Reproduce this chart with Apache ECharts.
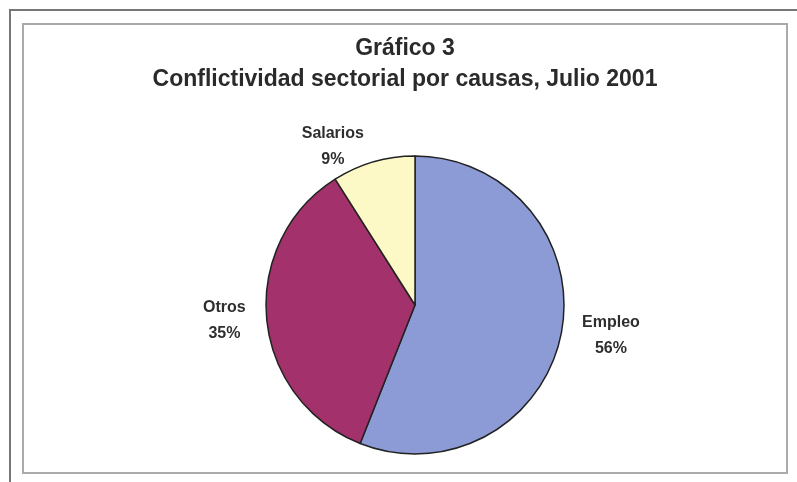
<!DOCTYPE html>
<html>
<head>
<meta charset="utf-8">
<script src="https://cdn.jsdelivr.net/npm/echarts@6/dist/echarts.min.js"></script>
<style>
html,body{margin:0;padding:0;background:#fff;}
#chart{width:797px;height:482px;}
</style>
</head>
<body>
<div id="chart"></div>
<script>
const titleLines = ['Gráfico 3', 'Conflictividad sectorial por causas, Julio 2001'];
const categories = ['Empleo', 'Otros', 'Salarios'];
const values = [56, 35, 9];
const colors = ['#8c9bd5', '#a3316b', '#fcf9c6'];

const chart = echarts.init(document.getElementById('chart'));
chart.setOption({
  animation: false,
  backgroundColor: '#fff',
  title: {
    text: titleLines.join('\n'),
    left: 400,
    textAlign: 'center',
    top: 28,
    textStyle: {
      fontFamily: 'Liberation Sans',
      fontSize: 23,
      fontWeight: 'bold',
      color: '#2a2a2a',
      lineHeight: 31
    }
  },
  graphic: [
    { type: 'polyline', shape: { points: [[10, 482], [10, 10], [797, 10]] },
      style: { stroke: '#777', lineWidth: 2, fill: null } },
    { type: 'rect', shape: { x: 23, y: 24, width: 764, height: 449 },
      style: { stroke: '#aaa', lineWidth: 2, fill: null } }
  ],
  series: [{
    type: 'pie',
    center: [415, 305],
    radius: 149,
    startAngle: 90,
    clockwise: true,
    data: categories.map((c, i) => ({ name: c, value: values[i], itemStyle: { color: colors[i] } })),
    itemStyle: { borderColor: '#222', borderWidth: 1.5 },
    label: {
      show: true,
      position: 'outside',
      formatter: '{b}\n{d}%',
      fontFamily: 'Liberation Sans',
      fontSize: 16,
      fontWeight: 'bold',
      color: '#2e2e2e',
      lineHeight: 26
    },
    labelLine: { show: false, length: 16, length2: 0 },
    labelLayout: function (p) {
      return { x: p.labelRect.x + p.labelRect.width / 2, align: 'center' };
    }
  }]
});
</script>
</body>
</html>
